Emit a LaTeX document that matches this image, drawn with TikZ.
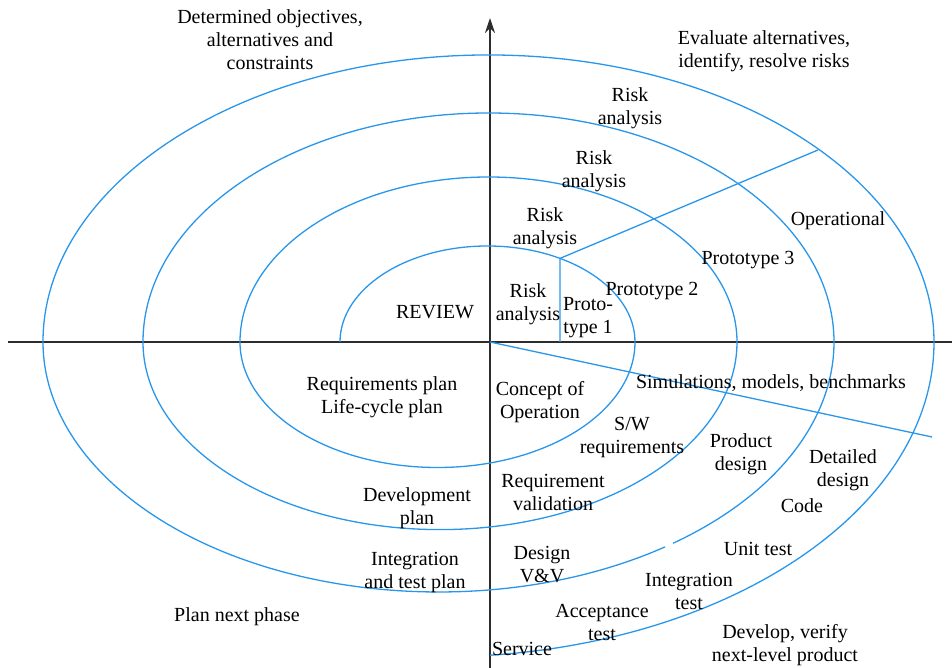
\documentclass[tikz,border=0pt]{standalone}
\usepackage{fontspec}
\setmainfont{Liberation Serif}
\usetikzlibrary{arrows.meta}
\definecolor{spiral}{RGB}{40,150,235}
\definecolor{axiscol}{RGB}{45,45,45}
\begin{document}
\begin{tikzpicture}[x=1pt,y=1pt,
  lbl/.style={align=center, inner sep=0pt, yshift=-2pt, font=\fontsize{20}{23}\selectfont},
  spir/.style={draw=spiral, line width=1.3pt},
  axisline/.style={draw=axiscol, line width=2pt}]
\useasboundingbox (-490,-326) rectangle (462,342);
% axes
\coordinate (xl) at (-482,0);
\coordinate (xr) at (462,0);
\coordinate (yb) at (0,-326);
\coordinate (yt) at (0,324);
\coordinate (O) at (0,0);
\draw[axisline] (xl) -- (xr);
\draw[axisline, -{Stealth[length=15pt,width=10pt]}] (yb) -- (yt);
% spiral
\draw[spir] (-150,0)
  arc[start angle=180,end angle=0,x radius=147.5,y radius=96]
  arc[start angle=0,end angle=-180,x radius=197.5,y radius=125.5]
  arc[start angle=180,end angle=0,x radius=248.5,y radius=165]
  arc[start angle=0,end angle=-180,x radius=297,y radius=187.6]
  arc[start angle=180,end angle=0,x radius=345.5,y radius=229]
  arc[start angle=0,end angle=-53.6,x radius=395.5,y radius=250];
\draw[spir] (175,-204.9)
  arc[start angle=-55.06,end angle=-180,x radius=395.5,y radius=250]
  arc[start angle=180,end angle=0,x radius=445.5,y radius=287]
  arc[start angle=0,end angle=-84.03,x radius=495.5,y radius=315];
% radial lines
\coordinate (p1) at (70,83.6);
\coordinate (p1b) at (70,0);
\coordinate (p2) at (328,192);
\coordinate (p3) at (442,-95);
\draw[spir] (p1b) -- (p1) -- (p2);
\draw[spir] (O) -- (p3);
% labels
\node[lbl] (obj) at (-220,304) {Determined objectives,\\alternatives and\\constraints};
\node[lbl] (eval) at (274,293) {Evaluate alternatives,\\identify, resolve risks};
\node[lbl] (risk4) at (140,236) {Risk\\analysis};
\node[lbl] (risk3) at (104,173) {Risk\\analysis};
\node[lbl] (risk2) at (55,116) {Risk\\analysis};
\node[lbl] (risk1) at (38,40) {Risk\\analysis};
\node[lbl] (proto1) at (98,26) {Proto-\\type 1};
\node[lbl] (proto2) at (162,53) {Prototype 2};
\node[lbl] (proto3) at (258,84) {Prototype 3};
\node[lbl] (oper) at (348,123) {Operational};
\node[lbl] (review) at (-55,32) {REVIEW};
\node[lbl] (sim) at (281,-39) {Simulations, models, benchmarks};
\node[lbl] (sw) at (142,-94) {S/W\\requirements};
\node[lbl] (prod) at (251,-110) {Product\\design};
\node[lbl] (det) at (353,-126) {Detailed\\design};
\node[lbl] (code) at (312,-162) {Code};
\node[lbl] (concept) at (50,-58) {Concept of\\Operation};
\node[lbl] (reqplan) at (-108,-53) {Requirements plan\\Life-cycle plan};
\node[lbl] (reqval) at (63,-148) {Requirement\\validation};
\node[lbl] (devplan) at (-73,-164) {Development\\plan};
\node[lbl] (itplan) at (-75,-229) {Integration\\and test plan};
\node[lbl] (next) at (-253,-273) {Plan next phase};
\node[lbl] (dvv) at (52,-221) {Design\\V\&V};
\node[lbl] (unit) at (268,-205) {Unit test};
\node[lbl] (itest) at (199,-247) {Integration\\test};
\node[lbl] (acc) at (112,-278) {Acceptance\\test};
\node[lbl] (serv) at (32,-305) {Service};
\node[lbl] (dev) at (295,-301) {Develop, verify\\next-level product};
\end{tikzpicture}
\end{document}
